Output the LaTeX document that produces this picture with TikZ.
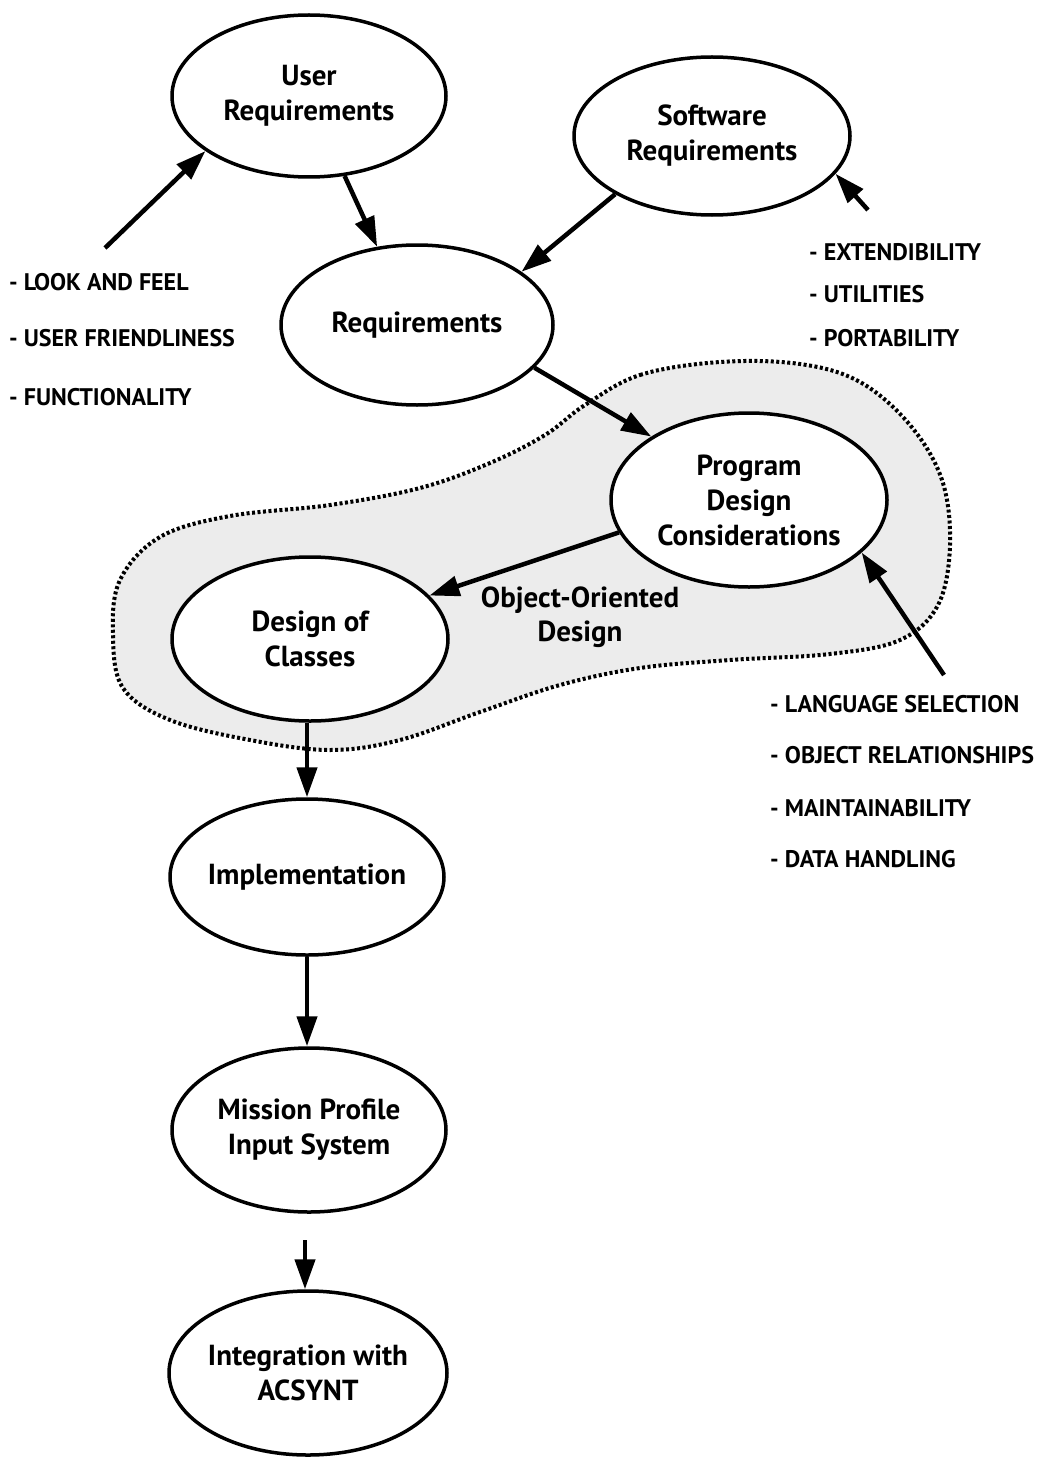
\documentclass[tikz,border=0pt]{standalone}
\usepackage{fontspec}
\setmainfont{PT Sans}
\usetikzlibrary{arrows.meta,shapes.geometric}

\begin{document}
\begin{tikzpicture}[x=1pt,y=-1pt,
  stage/.style={ellipse, draw, line width=3.5pt, fill=white, inner ysep=0pt, inner xsep=-10pt,
    align=center, font=\bfseries\fontsize{29}{35}\selectfont},
  arr/.style={line width=4.5pt, -{Triangle[length=30pt,width=20pt]}},
  item/.style={anchor=west, inner sep=0pt, font=\bfseries\fontsize{24}{26}\selectfont},
  blob/.style={fill=gray!15, draw, line width=4pt, dash pattern=on 3pt off 2.5pt}
]
\useasboundingbox (0,0) rectangle (1048,1458);

% shaded object-oriented design region
\path[blob] plot[smooth cycle, tension=0.6] coordinates {
  (585,405) (640,375) (720,362) (800,364) (860,382) (910,425) (942,480)
  (950,545) (938,605) (900,640) (830,654) (730,660) (640,668) (560,685)
  (480,712) (400,740) (330,750) (250,740) (170,720) (123,688) (113,635)
  (120,580) (160,537) (230,516) (330,505) (420,488) (490,463) (545,435)};

% stages
\node[stage, minimum width=274pt, minimum height=162pt] (ureq) at (309,96) {User\\Requirements};
\node[stage, minimum width=276pt, minimum height=158pt] (sreq) at (712,136) {Software\\Requirements};
\node[stage, minimum width=272pt, minimum height=160pt] (req) at (417,325) {Requirements};
\node[stage, minimum width=276pt, minimum height=174pt] (pdc) at (749,500) {Program\\Design\\Considerations};
\node[stage, minimum width=276pt, minimum height=164pt] (doc) at (310,639) {Design of\\Classes};
\node[stage, minimum width=274pt, minimum height=156pt] (impl) at (307,877) {Implementation};
\node[stage, minimum width=274pt, minimum height=164pt] (mps) at (309,1130) {Mission Profile\\Input System};
\node[stage, minimum width=278pt, minimum height=164pt] (acs) at (308,1373) {Integration with\\ACSYNT};

\node[font=\bfseries\fontsize{29}{34}\selectfont, align=center, inner sep=0pt] (ood) at (580,617) {Object-Oriented\\Design};

% requirement lists
\node[item] (lf) at (9,282) {- LOOK AND FEEL};
\node[item] (uf) at (9,338) {- USER FRIENDLINESS};
\node[item] (fn) at (9,397) {- FUNCTIONALITY};

\node[item] (ex) at (809,252) {- EXTENDIBILITY};
\node[item] (ut) at (809,294) {- UTILITIES};
\node[item] (po) at (809,338) {- PORTABILITY};

\node[item] (ls) at (770,704) {- LANGUAGE SELECTION};
\node[item] (orl) at (770,755) {- OBJECT RELATIONSHIPS};
\node[item] (mt) at (770,808) {- MAINTAINABILITY};
\node[item] (dh) at (770,859) {- DATA HANDLING};

% free arrow tails
\coordinate (ut0) at (105,248);
\coordinate (st0) at (868,210);
\coordinate (pt0) at (944,675);
\coordinate (mt0) at (305,1240);

% connectors
\draw[arr] (ut0) -- (ureq.208);
\draw[arr] (ureq.294) -- (req.117);
\draw[arr] (sreq.211) -- (req.27);
\draw[arr] (st0) -- (sreq.343);
\draw[arr] (req.340) -- (pdc.147);
\draw[arr] (pdc.194) -- (doc.20);
\draw[arr] (pt0) -- (pdc.335);
\draw[arr] (doc.south -| impl.north) -- (impl.north);
\draw[arr] (impl.south) -- (impl.south |- mps.north);
\draw[arr] (mt0) -- (mt0 |- acs.north);
\end{tikzpicture}
\end{document}
